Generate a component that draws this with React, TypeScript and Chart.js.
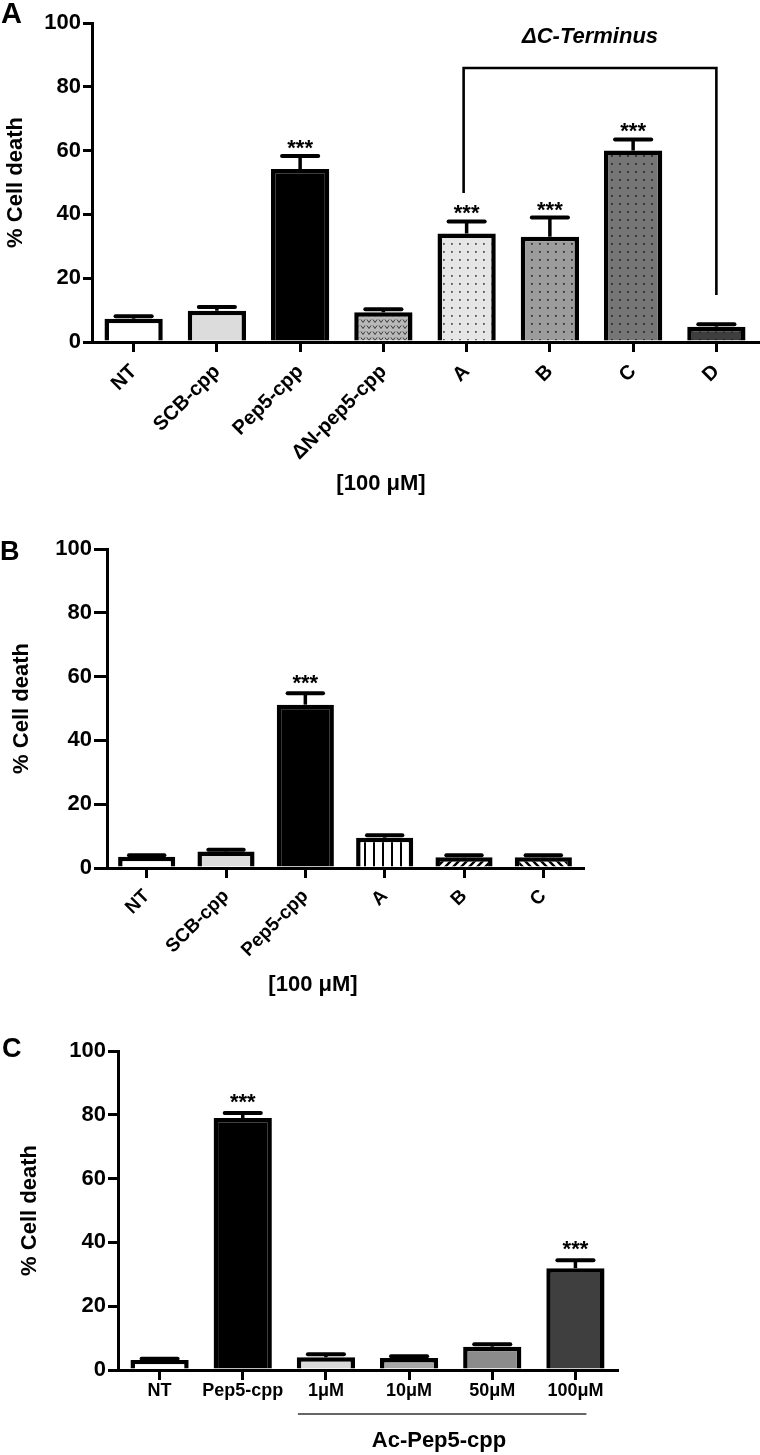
import React, { useEffect, useRef } from "react";
import { Chart, registerables } from "chart.js";

Chart.register(...registerables);

const FONT = "'Liberation Sans', Arial, Helvetica, sans-serif";

// ---------- Panel A ----------
const catsA = ["NT", "SCB-cpp", "Pep5-cpp", "ΔN-pep5-cpp", "A", "B", "C", "D"];
const meanA = [7.3, 9.8, 54.2, 9.3, 34.0, 33.0, 60.0, 4.8];
const errA = [0.8, 1.2, 4.1, 1.0, 3.8, 6.0, 3.5, 0.8];
const sigA = ["", "", "***", "", "***", "***", "***", ""];
const bracketA = { from: 4, to: 7, level: 85.9, leftEnd: 46.7, rightEnd: 14.7, label: "ΔC-Terminus" };

// ---------- Panel B ----------
const catsB = ["NT", "SCB-cpp", "Pep5-cpp", "A", "B", "C"];
const meanB = [3.5, 5.2, 51.2, 9.5, 3.4, 3.4];
const errB = [0.5, 0.5, 3.6, 0.8, 0.6, 0.6];
const sigB = ["", "", "***", "", "", ""];

// ---------- Panel C ----------
const catsC = ["NT", "Pep5-cpp", "1μM", "10μM", "50μM", "100μM"];
const meanC = [3.1, 79.0, 4.0, 3.8, 7.3, 31.9];
const errC = [0.4, 1.6, 0.9, 0.5, 0.8, 2.5];
const sigC = ["", "***", "", "", "", "***"];

const yTicks = [0, 20, 40, 60, 80, 100];
const yTitle = "% Cell death";
const concLabel = "[100 μM]";
const groupLabelC = "Ac-Pep5-cpp";

type Fill = string | CanvasPattern;

function tile(size: number, draw: (g: CanvasRenderingContext2D) => void): CanvasPattern {
  const c = document.createElement("canvas");
  c.width = size;
  c.height = size;
  const g = c.getContext("2d")!;
  draw(g);
  return g.createPattern(c, "repeat")!;
}

function dots(bg: string, fg: string): CanvasPattern {
  return tile(8, (g) => {
    g.fillStyle = bg;
    g.fillRect(0, 0, 8, 8);
    g.fillStyle = fg;
    g.fillRect(3, 3, 1.8, 1.8);
  });
}

function vees(bg: string, fg: string): CanvasPattern {
  return tile(6, (g) => {
    g.fillStyle = bg;
    g.fillRect(0, 0, 6, 6);
    g.strokeStyle = fg;
    g.lineWidth = 1;
    g.beginPath();
    g.moveTo(1, 1.5);
    g.lineTo(3, 4.5);
    g.lineTo(5, 1.5);
    g.stroke();
  });
}

function vstripes(): CanvasPattern {
  return tile(9, (g) => {
    g.fillStyle = "#fff";
    g.fillRect(0, 0, 9, 9);
    g.fillStyle = "#000";
    g.fillRect(4, 0, 2, 9);
  });
}

function diag(dir: 1 | -1): CanvasPattern {
  const s = 8;
  return tile(s, (g) => {
    g.fillStyle = "#fff";
    g.fillRect(0, 0, s, s);
    g.strokeStyle = "#000";
    g.lineWidth = 2.4;
    g.beginPath();
    if (dir === 1) {
      g.moveTo(-2, s + 2); g.lineTo(s + 2, -2);
      g.moveTo(-s / 2 - 2, s / 2 + 2); g.lineTo(s / 2 + 2, -s / 2 - 2);
      g.moveTo(s / 2 - 2, (3 * s) / 2 + 2); g.lineTo((3 * s) / 2 + 2, s / 2 - 2);
    } else {
      g.moveTo(-2, -2); g.lineTo(s + 2, s + 2);
      g.moveTo(-s / 2 - 2, s / 2 - 2); g.lineTo(s / 2 + 2, (3 * s) / 2 + 2);
      g.moveTo(s / 2 - 2, -s / 2 - 2); g.lineTo((3 * s) / 2 + 2, s / 2 + 2);
    }
    g.stroke();
  });
}

type PanelCfg = {
  labels: string[];
  values: number[];
  errs: number[];
  sigs: string[];
  colors: () => Fill[];
  padTop: number;
  padRight: number;
  yWidth: number;
  xHeight: number;
  yTickLen: number;
  yTitlePad: number;
  rotation: number;
  xFontSize: number;
  xPad: number;
  barPct: number;
  starLift: number;
  letter: string;
  letterX: number;
  letterY: number;
  letterSize: number;
  extra: (chart: any) => void;
};

const panelPlugin = {
  id: "panelExtras",
  afterDatasetsDraw(chart: any, _a: any, opts: any) {
    const cfg: PanelCfg = opts.cfg;
    if (!cfg) return;
    const { ctx } = chart;
    const y = chart.scales.y;
    const meta = chart.getDatasetMeta(0);
    ctx.save();
    meta.data.forEach((bar: any, i: number) => {
      const v = cfg.values[i];
      const e = cfg.errs[i];
      const x = bar.x;
      const w = bar.width;
      const yBar = y.getPixelForValue(v);
      const yTop = y.getPixelForValue(v + e);
      ctx.strokeStyle = "#000";
      ctx.lineWidth = 3.5;
      ctx.lineCap = "butt";
      ctx.beginPath();
      ctx.moveTo(x, yBar);
      ctx.lineTo(x, yTop);
      ctx.stroke();
      ctx.lineWidth = 4;
      ctx.lineCap = "round";
      ctx.beginPath();
      ctx.moveTo(x - w * 0.31, yTop);
      ctx.lineTo(x + w * 0.31, yTop);
      ctx.stroke();
      if (cfg.sigs[i]) {
        ctx.fillStyle = "#000";
        ctx.font = `bold 22px ${FONT}`;
        ctx.textAlign = "center";
        ctx.textBaseline = "alphabetic";
        ctx.fillText(cfg.sigs[i], x, yTop - cfg.starLift);
      }
    });
    ctx.restore();
  },
  afterDraw(chart: any, _a: any, opts: any) {
    const cfg: PanelCfg = opts.cfg;
    if (!cfg) return;
    const { ctx } = chart;
    ctx.save();
    ctx.fillStyle = "#000";
    ctx.font = `bold ${cfg.letterSize}px ${FONT}`;
    ctx.textAlign = "left";
    ctx.textBaseline = "alphabetic";
    ctx.fillText(cfg.letter, cfg.letterX, cfg.letterY);
    cfg.extra(chart);
    ctx.restore();
  },
};

function buildChart(canvas: HTMLCanvasElement, cfg: PanelCfg): Chart {
  return new Chart(canvas, {
    type: "bar",
    data: {
      labels: cfg.labels,
      datasets: [
        {
          data: cfg.values,
          backgroundColor: cfg.colors() as any,
          borderColor: "#000",
          borderWidth: 4.5,
          borderSkipped: "start",
          barPercentage: cfg.barPct,
          categoryPercentage: 1,
        },
      ],
    },
    options: {
      responsive: false,
      maintainAspectRatio: false,
      animation: false,
      devicePixelRatio: 1,
      layout: { padding: { left: 0, top: cfg.padTop, right: cfg.padRight, bottom: 0 } },
      plugins: {
        legend: { display: false },
        tooltip: { enabled: false },
        panelExtras: { cfg },
      } as any,
      scales: {
        x: {
          type: "category",
          offset: true,
          grid: {
            display: true,
            drawOnChartArea: false,
            drawTicks: true,
            tickLength: 10,
            lineWidth: 3,
            color: "#000",
            offset: false,
          },
          border: { display: true, color: "#000", width: 3 },
          ticks: {
            color: "#000",
            autoSkip: false,
            minRotation: cfg.rotation,
            maxRotation: cfg.rotation,
            padding: cfg.xPad,
            font: { family: FONT, size: cfg.xFontSize, weight: "bold" },
          },
          afterFit: (s: any) => {
            s.height = cfg.xHeight;
          },
        },
        y: {
          min: 0,
          max: 100,
          afterBuildTicks: (s: any) => {
            s.ticks = yTicks.map((v) => ({ value: v }));
          },
          grid: {
            display: true,
            drawOnChartArea: false,
            drawTicks: true,
            tickLength: cfg.yTickLen,
            lineWidth: 3,
            color: "#000",
          },
          border: { display: true, color: "#000", width: 3 },
          ticks: {
            color: "#000",
            padding: 2,
            font: { family: FONT, size: 22, weight: "bold" },
          },
          title: {
            display: true,
            text: yTitle,
            color: "#000",
            font: { family: FONT, size: 22, weight: "bold" },
            padding: { top: cfg.yTitlePad, bottom: 0 },
          },
          afterFit: (s: any) => {
            s.width = cfg.yWidth;
          },
        },
      },
    } as any,
    plugins: [panelPlugin],
  });
}

export default function App() {
  const refA = useRef<HTMLCanvasElement>(null);
  const refB = useRef<HTMLCanvasElement>(null);
  const refC = useRef<HTMLCanvasElement>(null);

  useEffect(() => {
    const cfgA: PanelCfg = {
      labels: catsA,
      values: meanA,
      errs: errA,
      sigs: sigA,
      colors: () => [
        "#ffffff",
        "#dcdcdc",
        "#000000",
        vees("#b9b9b9", "#3a3a3a"),
        dots("#e6e6e6", "#555555"),
        dots("#9c9c9c", "#333333"),
        dots("#767676", "#2a2a2a"),
        dots("#3e3e3e", "#1c1c1c"),
      ],
      padTop: 23,
      padRight: 2,
      yWidth: 92,
      xHeight: 580 - 342,
      yTickLen: 9,
      yTitlePad: 3,
      rotation: 45,
      xFontSize: 20,
      xPad: 8,
      barPct: 0.7,
      starLift: 1,
      letter: "A",
      letterX: 1,
      letterY: 23,
      letterSize: 29,
      extra: (chart: any) => {
        const { ctx } = chart;
        const x = chart.scales.x;
        const y = chart.scales.y;
        const xl = x.getPixelForValue(bracketA.from) - 3;
        const xr = x.getPixelForValue(bracketA.to);
        const yb = y.getPixelForValue(bracketA.level);
        ctx.strokeStyle = "#000";
        ctx.lineWidth = 2.6;
        ctx.lineCap = "butt";
        ctx.beginPath();
        ctx.moveTo(xl, y.getPixelForValue(bracketA.leftEnd));
        ctx.lineTo(xl, yb);
        ctx.lineTo(xr, yb);
        ctx.lineTo(xr, y.getPixelForValue(bracketA.rightEnd));
        ctx.stroke();
        ctx.fillStyle = "#000";
        ctx.textAlign = "center";
        ctx.textBaseline = "middle";
        ctx.font = `italic bold 22px ${FONT}`;
        ctx.fillText(bracketA.label, (xl + xr) / 2, yb - 31);
        ctx.font = `bold 22px ${FONT}`;
        ctx.fillText(concLabel, 381, 484);
      },
    };

    const cfgB: PanelCfg = {
      labels: catsB,
      values: meanB,
      errs: errB,
      sigs: sigB,
      colors: () => ["#ffffff", "#dcdcdc", "#000000", vstripes(), diag(1), diag(-1)],
      padTop: 29,
      padRight: 760 - 583,
      yWidth: 107,
      xHeight: 500 - 348,
      yTickLen: 13,
      yTitlePad: 9,
      rotation: 45,
      xFontSize: 19,
      xPad: 7,
      barPct: 0.72,
      starLift: 3,
      letter: "B",
      letterX: 0,
      letterY: 40,
      letterSize: 27,
      extra: (chart: any) => {
        const { ctx } = chart;
        ctx.fillStyle = "#000";
        ctx.textAlign = "center";
        ctx.textBaseline = "middle";
        ctx.font = `bold 22px ${FONT}`;
        ctx.fillText(concLabel, 313, 465);
      },
    };

    const cfgC: PanelCfg = {
      labels: catsC,
      values: meanC,
      errs: errC,
      sigs: sigC,
      colors: () => ["#ffffff", "#000000", "#d9d9d9", "#a7a7a7", "#8b8b8b", "#3f3f3f"],
      padTop: 31,
      padRight: 760 - 617,
      yWidth: 118,
      xHeight: 435 - 350,
      yTickLen: 10,
      yTitlePad: 17,
      rotation: 0,
      xFontSize: 18,
      xPad: 0,
      barPct: 0.7,
      starLift: 4,
      letter: "C",
      letterX: 2,
      letterY: 37,
      letterSize: 27,
      extra: (chart: any) => {
        const { ctx } = chart;
        const x = chart.scales.x;
        const xs = x.getPixelForValue(2) - 28;
        const xe = x.getPixelForValue(5) + 11;
        ctx.strokeStyle = "#333";
        ctx.lineWidth = 1.6;
        ctx.beginPath();
        ctx.moveTo(xs, 394);
        ctx.lineTo(xe, 394);
        ctx.stroke();
        ctx.fillStyle = "#000";
        ctx.textAlign = "center";
        ctx.textBaseline = "middle";
        ctx.font = `bold 22px ${FONT}`;
        ctx.fillText(groupLabelC, 439, 421);
      },
    };

    const charts = [
      buildChart(refA.current!, cfgA),
      buildChart(refB.current!, cfgB),
      buildChart(refC.current!, cfgC),
    ];
    return () => charts.forEach((c) => c.destroy());
  }, []);

  return (
    <div
      style={{
        position: "absolute",
        left: 0,
        top: 0,
        width: 760,
        height: 1455,
        background: "#ffffff",
        overflow: "hidden",
      }}
    >
      <canvas ref={refA} width={760} height={580} style={{ position: "absolute", left: 0, top: 0 }} />
      <canvas ref={refB} width={760} height={500} style={{ position: "absolute", left: 0, top: 520 }} />
      <canvas ref={refC} width={760} height={435} style={{ position: "absolute", left: 0, top: 1020 }} />
    </div>
  );
}
